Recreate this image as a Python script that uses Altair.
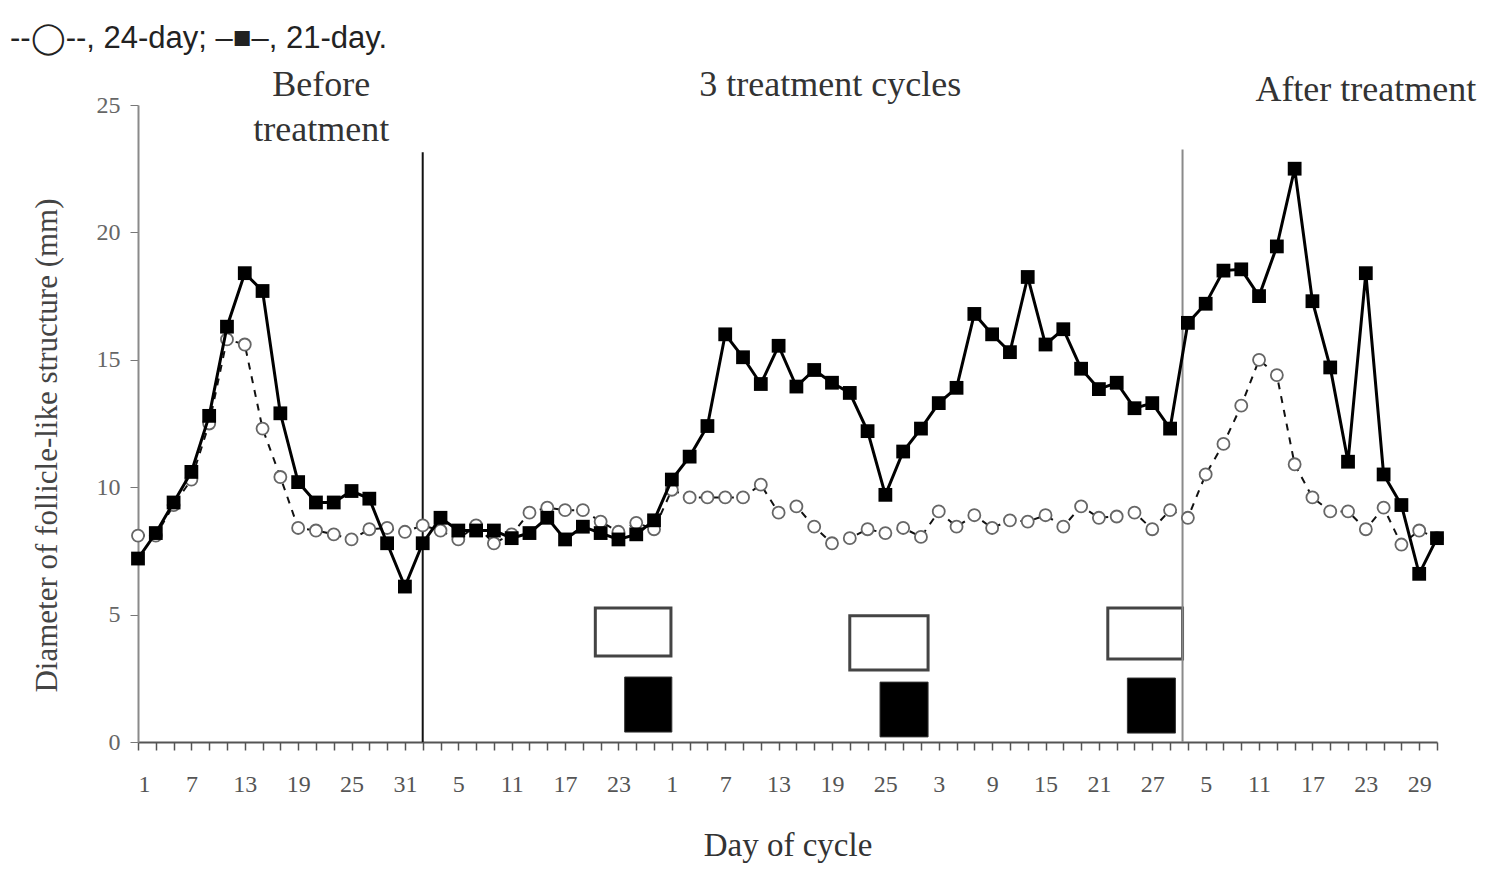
import altair as alt
import pandas as pd

# ---------------- data ----------------
day_index = list(range(74))

diam_21day = [7.2, 8.2, 9.4, 10.6, 12.8, 16.3, 18.4, 17.7, 12.9, 10.2, 9.4, 9.4, 9.85, 9.55, 7.8, 6.1, 7.8,
              8.8, 8.3, 8.3, 8.3, 8.0, 8.2, 8.8, 7.95, 8.45, 8.2, 7.95, 8.15, 8.7, 10.3, 11.2, 12.4, 16.0, 15.1,
              14.05, 15.55, 13.95, 14.6, 14.1, 13.7, 12.2, 9.7, 11.4, 12.3, 13.3, 13.9, 16.8, 16.0, 15.3, 18.25,
              15.6, 16.2, 14.65, 13.85, 14.1, 13.1, 13.3, 12.3, 16.45, 17.2, 18.5, 18.55, 17.5, 19.45, 22.5,
              17.3, 14.7, 11.0, 18.4, 10.5, 9.3, 6.6, 8.0]

diam_24day = [8.1, 8.1, 9.3, 10.3, 12.5, 15.8, 15.6, 12.3, 10.4, 8.4, 8.3, 8.15, 7.95, 8.35, 8.4, 8.25, 8.5,
              8.3, 7.95, 8.5, 7.8, 8.15, 9.0, 9.2, 9.1, 9.1, 8.65, 8.25, 8.6, 8.35, 9.9, 9.6, 9.6, 9.6, 9.6,
              10.1, 9.0, 9.25, 8.45, 7.8, 8.0, 8.35, 8.2, 8.4, 8.05, 9.05, 8.45, 8.9, 8.4, 8.7, 8.65,
              8.9, 8.45, 9.25, 8.8, 8.85, 9.0, 8.35, 9.1, 8.8, 10.5, 11.7, 13.2, 15.0, 14.4, 10.9,
              9.6, 9.05, 9.05, 8.35, 9.2, 7.75, 8.3, 8.0]

x_tick_labels = ["1", "7", "13", "19", "25", "31", "5", "11", "17", "23", "1", "7", "13",
                 "19", "25", "3", "9", "15", "21", "27", "5", "11", "17", "23", "29"]
y_tick_values = [0, 5, 10, 15, 20, 25]

open_box_x = [25.7, 40.0, 54.5]
open_box_x2 = [29.95, 44.4, 58.7]
open_box_y = [3.38, 2.83, 3.26]
open_box_y2 = [5.26, 4.95, 5.26]

filled_box_x = [27.35, 41.7, 55.6]
filled_box_x2 = [30.0, 44.4, 58.3]
filled_box_y = [0.39, 0.2, 0.35]
filled_box_y2 = [2.55, 2.35, 2.51]

phase_line_x = [16, 58.7]
phase_line_top = [23.15, 23.25]
phase_line_name = ["start", "end"]

annot_text = ["Before", "treatment", "3 treatment cycles", "After treatment"]
annot_x = [10.3, 10.3, 38.9, 69.0]
annot_y = [25.8, 24.0, 25.8, 25.6]

legend_text = "--◯--, 24-day; –■–, 21-day."

# ---------------- tables ----------------
series = pd.DataFrame({"i": day_index, "d24": diam_24day, "d21": diam_21day})
open_boxes = pd.DataFrame({"x": open_box_x, "x2": open_box_x2, "y": open_box_y, "y2": open_box_y2})
filled_boxes = pd.DataFrame({"x": filled_box_x, "x2": filled_box_x2, "y": filled_box_y, "y2": filled_box_y2})
phase = pd.DataFrame({"x": phase_line_x, "top": phase_line_top, "name": phase_line_name})
annots = pd.DataFrame({"t": annot_text, "x": annot_x, "y": annot_y})

label_arr = "[" + ",".join("'" + s + "'" for s in x_tick_labels) + "]"
label_expr = f"datum.value % 3 == 0 ? {label_arr}[datum.value / 3] : ''"

xscale = alt.Scale(domain=[0, 73], nice=False, zero=False)
yscale = alt.Scale(domain=[0, 25], nice=False, zero=True)

x_axis = alt.Axis(values=day_index, tickCount=100, labelExpr=label_expr, labelOverlap=False,
                  title="Day of cycle", grid=False, tickSize=8, labelPadding=22,
                  titlePadding=33, domainColor="#555555", domainWidth=2, tickColor="#555555",
                  tickWidth=1.5, labelFont="Liberation Serif", labelFontSize=24,
                  labelColor="#555555", titleFont="Liberation Serif", titleFontSize=33,
                  titleFontWeight="normal", titleColor="#333333")
y_axis = alt.Axis(values=y_tick_values, title="Diameter of follicle-like structure (mm)",
                  grid=False, tickSize=8, labelPadding=10, titlePadding=33, titleY=340,
                  domainColor="#8a8a8a", domainWidth=2, tickColor="#777777",
                  labelFont="Liberation Serif", labelFontSize=24, labelColor="#666666",
                  titleFont="Liberation Serif", titleFontSize=31, titleFontWeight="normal",
                  titleColor="#444444")

base = alt.Chart(series)

line24 = base.mark_line(color="#111111", strokeWidth=2, strokeDash=[7, 7]).encode(
    x=alt.X("i:Q", scale=xscale, axis=x_axis),
    y=alt.Y("d24:Q", scale=yscale, axis=y_axis),
)
pts24 = base.mark_point(shape="circle", size=145, filled=True, fill="white",
                        stroke="#666666", strokeWidth=1.8, opacity=1).encode(
    x=alt.X("i:Q", scale=xscale), y=alt.Y("d24:Q", scale=yscale))

line21 = base.mark_line(color="#000000", strokeWidth=3).encode(
    x=alt.X("i:Q", scale=xscale), y=alt.Y("d21:Q", scale=yscale))
pts21 = base.mark_point(shape="square", size=190, filled=True, color="#000000", opacity=1).encode(
    x=alt.X("i:Q", scale=xscale), y=alt.Y("d21:Q", scale=yscale))

rules = alt.Chart(phase).mark_rule(strokeWidth=2).encode(
    x=alt.X("x:Q", scale=xscale), y=alt.Y("top:Q", scale=yscale), y2=alt.datum(0),
    color=alt.Color("name:N", scale=alt.Scale(domain=["start", "end"], range=["#111111", "#8a8a8a"]),
                    legend=None))

open_rect = alt.Chart(open_boxes).mark_rect(fill="white", stroke="#444444", strokeWidth=3).encode(
    x=alt.X("x:Q", scale=xscale), x2="x2:Q", y=alt.Y("y:Q", scale=yscale), y2="y2:Q")
filled_rect = alt.Chart(filled_boxes).mark_rect(fill="#000000", stroke="#333333", strokeWidth=1).encode(
    x=alt.X("x:Q", scale=xscale), x2="x2:Q", y=alt.Y("y:Q", scale=yscale), y2="y2:Q")

texts = alt.Chart(annots).mark_text(font="Liberation Serif", fontSize=36, color="#333333",
                                    baseline="middle", align="center").encode(
    x=alt.X("x:Q", scale=xscale), y=alt.Y("y:Q", scale=yscale), text="t:N")

chart = alt.layer(open_rect, filled_rect, rules, line24, pts24, line21, pts21, texts).properties(
    width=1299, height=637,
    autosize=alt.AutoSizeParams(type="none"),
    padding={"left": 130, "top": 97, "right": 41, "bottom": 126},
    title=alt.TitleParams(legend_text, anchor="start", frame="group", fontSize=31,
                          font="Liberation Sans", fontWeight="normal", color="#222222",
                          dx=-128, offset=12),
).configure_view(stroke=None)

chart.save("out.html", embed_options={"renderer": "svg", "actions": False})
